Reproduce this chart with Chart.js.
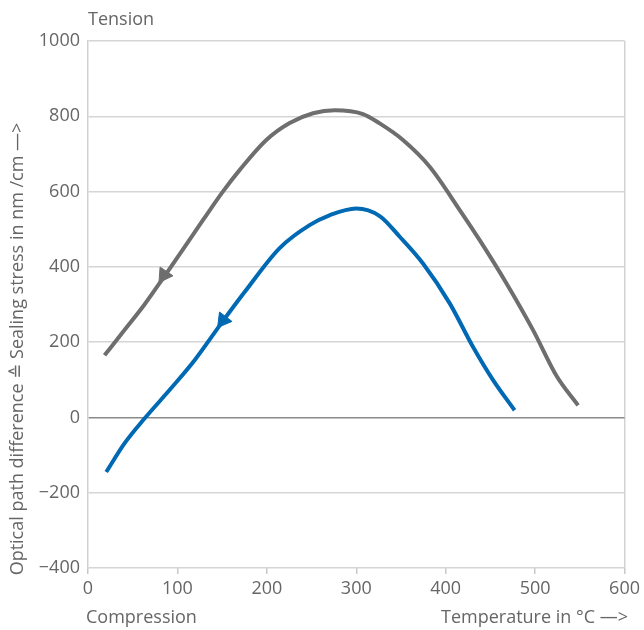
<!DOCTYPE html>
<html>
<head>
<meta charset="utf-8">
<script src="https://cdn.jsdelivr.net/npm/chart.js@4"></script>
<style>
  html,body{margin:0;padding:0;background:#fff;}
  #wrap{width:644px;height:630px;position:relative;}
</style>
</head>
<body>
<div id="wrap"><canvas id="c" width="644" height="630"></canvas></div>
<script>
// heating / cooling curves (x = °C, y = nm/cm)
const grayX = [18.5, 40.8, 63.2, 83.7, 104.3, 128.5, 150.8, 169.5, 199.4, 225.5, 251.7, 276, 307.5, 326.2, 352.2, 382.1, 415.7, 438, 468, 497.7, 524, 548];
const grayY = [165, 232, 300, 369, 440, 524, 600, 657, 737, 782, 808, 816, 806, 781, 737, 666, 551, 471, 356, 232, 110, 32];
const blueX = [20.4, 40.8, 63.2, 93.1, 119.2, 149, 175.1, 214.3, 247.8, 270, 300, 326.2, 348.6, 374.6, 404.5, 430.6, 453, 477];
const blueY = [-145, -69, -3, 78, 152, 250, 333, 450, 511, 537, 555, 535, 480, 409, 303, 187, 99, 19];
// arrow heads (position + direction in degrees)
const grayArrow = {x: 85, y: 378, rot: 214};
const blueArrow = {x: 151, y: 258, rot: 217};

const xTicks = [0, 100, 200, 300, 400, 500, 600];
const yTicks = [-400, -200, 0, 200, 400, 600, 800, 1000];

const GRAY = '#6e6e6e', BLUE = '#0069b4', TXT = '#666666';
const FONT = '"Open Sans", "DejaVu Sans", sans-serif';

const pts = (xs, ys) => xs.map((x,i)=>({x:x, y:ys[i]}));

/* labels outside the axes */
const extraText = {
  id:'extraText',
  afterDraw(chart){
    const c = chart.ctx;
    c.save();
    c.fillStyle = TXT;
    c.font = '18px ' + FONT;
    c.textBaseline = 'middle';
    c.textAlign = 'left';
    c.fillText('Tension', 88, 20);
    c.fillText('Compression', 86, 618);
    c.textAlign = 'right';
    c.fillText('Temperature in \u00B0C \u2014>', 628, 618);
    c.translate(18, 349);
    c.rotate(-Math.PI/2);
    c.textAlign = 'center';
    c.fillText('Optical path difference \u2259 Sealing stress in nm /cm \u2014>', 0, 0);
    c.restore();
  }
};

new Chart(document.getElementById('c'), {
  type:'scatter',
  data:{
    datasets:[
      { data: pts(grayX, grayY), showLine:true, borderColor:GRAY, borderWidth:4, pointRadius:0, cubicInterpolationMode:'monotone', borderCapStyle:'butt' },
      { data: pts(blueX, blueY), showLine:true, borderColor:BLUE, borderWidth:4, pointRadius:0, cubicInterpolationMode:'monotone', borderCapStyle:'butt' },
      { data:[{x:grayArrow.x, y:grayArrow.y}], pointStyle:'triangle', pointRadius:9, pointRotation:grayArrow.rot, backgroundColor:GRAY, borderColor:GRAY, borderWidth:1 },
      { data:[{x:blueArrow.x, y:blueArrow.y}], pointStyle:'triangle', pointRadius:9, pointRotation:blueArrow.rot, backgroundColor:BLUE, borderColor:BLUE, borderWidth:1 }
    ]
  },
  options:{
    responsive:false,
    animation:false,
    layout:{ padding:{ top:41, right:19, bottom:0, left:0 } },
    plugins:{ legend:{display:false}, tooltip:{enabled:false} },
    scales:{
      x:{
        type:'linear', min:0, max:600,
        afterBuildTicks: s => { s.ticks = xTicks.map(v=>({value:v})); },
        afterFit: s => { s.height = 62; },
        grid:{
          color: ctx => (ctx.tick && ctx.tick.value === 600) ? '#d2d2d2' : 'rgba(0,0,0,0)',
          tickColor:'#c8c8c8', tickLength:6, lineWidth:1.5
        },
        border:{ display:false },
        ticks:{ color:TXT, font:{size:18, family:FONT}, padding:4, maxRotation:0 }
      },
      y:{
        type:'linear', min:-400, max:1000,
        afterBuildTicks: s => { s.ticks = yTicks.map(v=>({value:v})); },
        afterFit: s => { s.width = 88; },
        grid:{
          color: ctx => (ctx.tick && ctx.tick.value === 0) ? '#8a8a8a' : '#d5d5d5',
          lineWidth:1.5, drawTicks:false
        },
        border:{ display:true, color:'#d2d2d2', width:1.5 },
        ticks:{ color:TXT, font:{size:18, family:FONT}, padding:8,
          callback: v => v < 0 ? '\u2212' + Math.abs(v) : String(v) }
      }
    }
  },
  plugins:[extraText]
});
</script>
</body>
</html>
